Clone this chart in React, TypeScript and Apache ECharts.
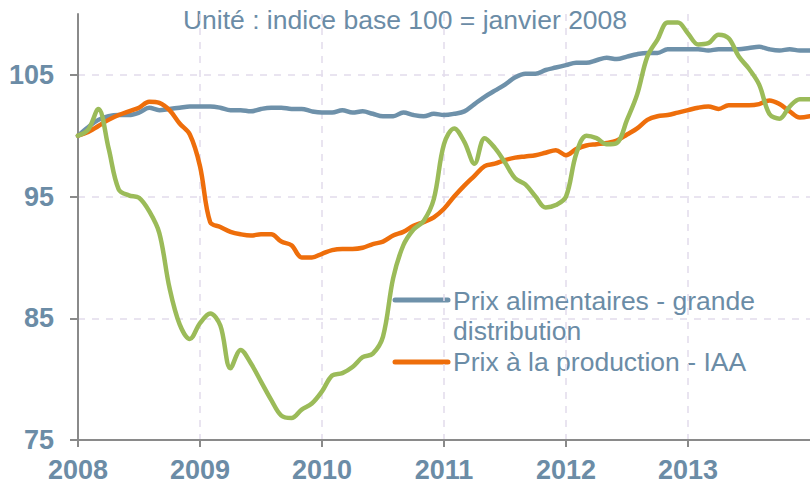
import React, { useEffect, useRef } from "react";
import * as echarts from "echarts";

// Monthly values, January 2008 (index 0) to January 2014 (index 72)
const startYear = 2008;
const yearTicks = [0, 12, 24, 36, 48, 60];
const valueTicks = [75, 85, 95, 105];

const retailPrices = [
  100.0, 100.7, 101.3, 101.6, 101.7, 101.7, 101.9, 102.3, 102.1, 102.2, 102.3, 102.4,
  102.4, 102.4, 102.3, 102.1, 102.1, 102.0, 102.2, 102.3, 102.3, 102.2, 102.2, 102.0,
  101.9, 101.9, 102.1, 101.9, 102.0, 101.8, 101.6, 101.6, 101.9, 101.7, 101.6, 101.8,
  101.7, 101.8, 102.0, 102.6, 103.2, 103.7, 104.2, 104.8, 105.1, 105.1, 105.4, 105.6,
  105.8, 106.0, 106.0, 106.2, 106.4, 106.3, 106.5, 106.7, 106.8, 106.8, 107.1, 107.1,
  107.1, 107.1, 107.0, 107.1, 107.1, 107.1, 107.2, 107.3, 107.1, 107.0, 107.1, 107.0,
  107.0,
];

const producerPrices = [
  100.0, 100.3, 100.8, 101.3, 101.7, 102.0, 102.3, 102.8, 102.7, 102.1, 101.0, 100.1,
  97.5, 92.9, 92.5, 92.1, 91.9, 91.8, 91.9, 91.9, 91.3, 91.0, 90.0, 90.0,
  90.3, 90.6, 90.7, 90.7, 90.8, 91.1, 91.3, 91.8, 92.1, 92.6, 92.9, 93.3,
  94.0, 95.0, 95.9, 96.7, 97.5, 97.7, 98.0, 98.2, 98.3, 98.4, 98.6, 98.8,
  98.4, 98.9, 99.2, 99.3, 99.4, 99.6, 100.1, 100.6, 101.3, 101.6, 101.7, 101.9,
  102.1, 102.3, 102.4, 102.2, 102.5, 102.5, 102.5, 102.6, 102.9, 102.6, 102.0, 101.5,
  101.6,
];

const agriPrices = [
  100.0, 100.5, 102.2, 99.0, 95.6, 95.1, 94.9, 93.8, 92.0, 87.5, 84.5, 83.3,
  84.6, 85.4, 84.4, 80.9, 82.4, 81.3, 79.8, 78.3, 77.0, 76.8, 77.5, 78.0,
  79.0, 80.3, 80.5, 81.0, 81.8, 82.1, 83.5, 88.3, 91.0, 92.3, 93.0, 94.8,
  99.3, 100.6, 99.5, 97.7, 99.8, 99.0, 97.8, 96.5, 96.0, 95.0, 94.1, 94.3,
  95.0, 98.5, 100.0, 99.8, 99.3, 99.4, 101.3, 103.4, 106.5, 107.9, 109.3, 109.3,
  108.4, 107.5, 107.6, 108.3, 108.0, 106.5, 105.5, 104.2, 101.8, 101.4, 102.4, 103.0,
  103.0,
];

const seriesNames = [
  "Prix alimentaires - grande\ndistribution",
  "Prix à la production - IAA",
  "Prix agricoles",
];
const subtitle = "Unité : indice base 100 = janvier 2008";

const BLUE = "#6e91aa";
const ORANGE = "#ee6e0b";
const GREEN = "#9bbb59";
const TEXT = "#6b8ca6";
const GRID = "#e2dbeb";
const AXIS = "#8a8a8a";

const toPairs = (arr: number[]) => arr.map((v, i) => [i, v]);

export default function App() {
  const ref = useRef<HTMLDivElement>(null);

  useEffect(() => {
    if (!ref.current) return;
    document.body.style.margin = "0";
    const chart = echarts.init(ref.current, null, { renderer: "svg" });
    const font = "'Liberation Sans', Arial, sans-serif";
    chart.setOption({
      animation: false,
      backgroundColor: "#ffffff",
      textStyle: { fontFamily: font },
      grid: { left: 78, right: 0, top: 14, bottom: 46 },
      xAxis: {
        type: "value",
        min: 0,
        max: 72,
        axisLine: { show: true, lineStyle: { color: AXIS, width: 2 } },
        axisTick: {
          show: true,
          length: 7,
          customValues: yearTicks,
          lineStyle: { color: AXIS, width: 2 },
        },
        axisLabel: {
          customValues: yearTicks,
          formatter: (v: number) => String(startYear + Math.round(v / 12)),
          color: TEXT,
          fontSize: 27,
          fontWeight: "bold",
          fontFamily: font,
          margin: 16,
        },
        splitLine: {
          show: true,
          lineStyle: { color: GRID, type: [7, 7], width: 1.5 },
        },
      },
      yAxis: {
        type: "value",
        min: 75,
        max: 110,
        axisLine: { show: true, lineStyle: { color: AXIS, width: 2 } },
        axisTick: {
          show: true,
          length: 8,
          customValues: valueTicks,
          lineStyle: { color: AXIS, width: 2 },
        },
        axisLabel: {
          customValues: valueTicks,
          color: TEXT,
          fontSize: 27,
          fontWeight: "bold",
          fontFamily: font,
          margin: 24,
        },
        splitLine: {
          show: true,
          lineStyle: { color: GRID, type: [7, 7], width: 1.5 },
        },
      },
      series: [
        {
          name: seriesNames[0],
          type: "line",
          data: toPairs(retailPrices),
          smooth: 0.35,
          showSymbol: false,
          lineStyle: { color: BLUE, width: 4.5, cap: "round", join: "round" },
          itemStyle: { color: BLUE },
        },
        {
          name: seriesNames[1],
          type: "line",
          data: toPairs(producerPrices),
          smooth: 0.35,
          showSymbol: false,
          lineStyle: { color: ORANGE, width: 4.5, cap: "round", join: "round" },
          itemStyle: { color: ORANGE },
        },
        {
          name: seriesNames[2],
          type: "line",
          data: toPairs(agriPrices),
          smooth: 0.35,
          showSymbol: false,
          lineStyle: { color: GREEN, width: 4.5, cap: "round", join: "round" },
          itemStyle: { color: GREEN },
        },
      ],
      graphic: [
        {
          type: "text",
          left: "center",
          top: 6,
          style: {
            text: subtitle,
            fill: TEXT,
            font: `26.5px ${font}`,
          },
        },
        {
          type: "line",
          shape: { x1: 395, y1: 300, x2: 448, y2: 300 },
          style: { stroke: BLUE, lineWidth: 5, lineCap: "round" },
        },
        {
          type: "text",
          x: 453,
          y: 286,
          style: {
            text: seriesNames[0],
            fill: TEXT,
            font: `26.5px ${font}`,
            lineHeight: 30,
          },
        },
        {
          type: "line",
          shape: { x1: 395, y1: 362, x2: 448, y2: 362 },
          style: { stroke: ORANGE, lineWidth: 5, lineCap: "round" },
        },
        {
          type: "text",
          x: 453,
          y: 347,
          style: {
            text: seriesNames[1],
            fill: TEXT,
            font: `26.5px ${font}`,
            lineHeight: 30,
          },
        },
      ],
    });
    return () => chart.dispose();
  }, []);

  return <div ref={ref} style={{ width: 810, height: 486 }} />;
}
